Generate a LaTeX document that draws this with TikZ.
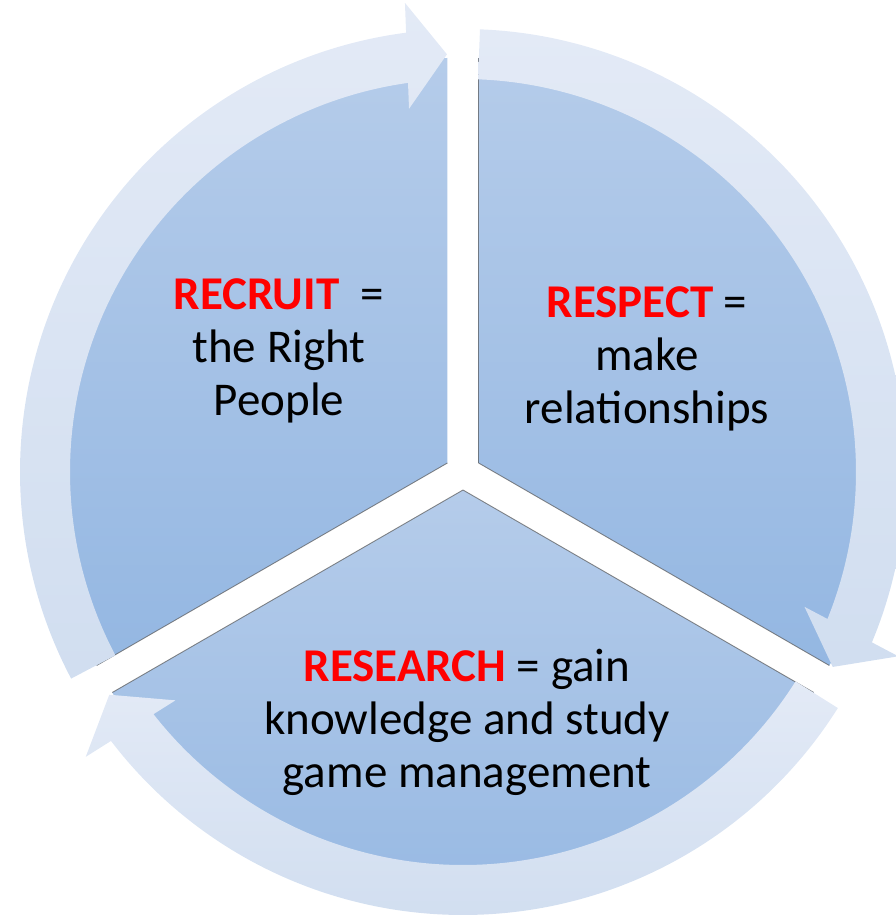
\documentclass[tikz,border=0pt]{standalone}
\usepackage{fontspec}
\setmainfont{Carlito}
\definecolor{segtop}{HTML}{B5CCEA}
\definecolor{segbot}{HTML}{94B7E2}
\definecolor{ringtop}{HTML}{E3EAF6}
\definecolor{ringbot}{HTML}{D1DEF0}
\definecolor{txtred}{HTML}{FF0000}
\begin{document}
\begin{tikzpicture}[x=1pt,y=1pt,
  seg/.style={top color=segtop,bottom color=segbot},
  ring/.style={top color=ringtop,bottom color=ringbot},
  edgeline/.style={draw=black!65,line width=0.9pt,draw opacity=0.7},
  lbl/.style={align=center,font=\fontsize{47}{53}\selectfont,inner sep=0pt}]
\useasboundingbox (-463,-444) rectangle (432,472);
\coordinate (A1) at (-15.6,9);
\coordinate (A2) at (15.6,9);
\coordinate (A3) at (0,-18);
% segments
\shade[seg] (A1) -- ++(90:405) arc[start angle=90,end angle=210,radius=405] -- cycle;
\shade[seg] (A2) -- ++(-30:405) arc[start angle=-30,end angle=90,radius=405] -- cycle;
\shade[seg] (A3) -- ++(210:405) arc[start angle=210,end angle=330,radius=405] -- cycle;
% shadow edges
\draw[edgeline] (A1) -- ++(210:405);
\draw[edgeline] (A2) -- ++(90:405);
\draw[edgeline] (A2) -- ++(-30:405);
\draw[edgeline] (A3) -- ++(210:405);
\draw[edgeline] (A3) -- ++(330:405);
% circular arrows
\foreach \t in {92.2,-27.8,212.2}{
  \shade[ring] ({\t+115.6}:443) arc[start angle={\t+115.6},end angle={\t+5.18},radius=443]
    -- ({\t+4.854}:472.7) -- (\t:418) -- ({\t+6.254}:367.2) -- ({\t+5.84}:393)
    arc[start angle={\t+5.84},end angle={\t+115.6},radius=393] -- cycle;
}
% labels
\node[lbl] (recruit) at (-184,121) {\textcolor{txtred}{\textbf{RECRUIT}}\ \ =\\the Right\\People};
\node[lbl] (respect) at (184,113) {\textcolor{txtred}{\textbf{RESPECT}} =\\make\\relationships};
\node[lbl] (research) at (4,-250) {\textcolor{txtred}{\textbf{RESEARCH}} = gain\\knowledge and study\\game management};
\end{tikzpicture}
\end{document}
